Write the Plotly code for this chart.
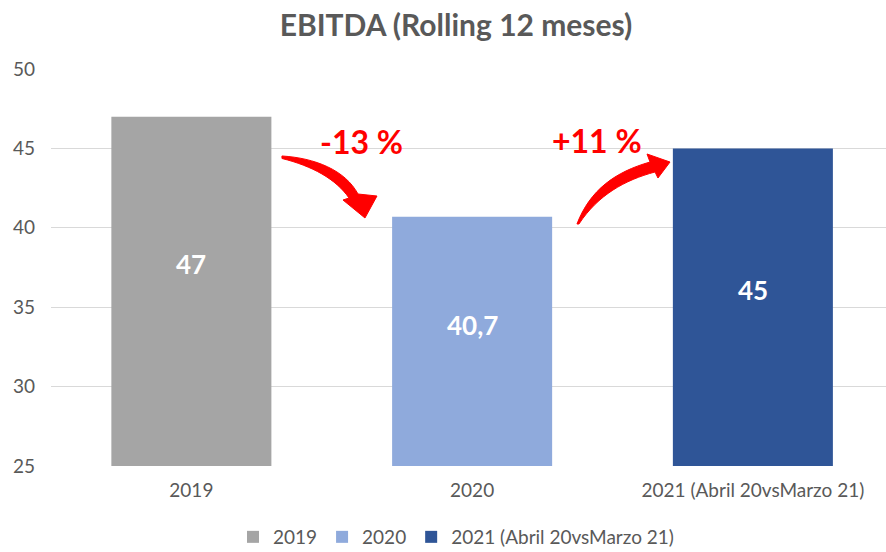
import plotly.graph_objects as go

categories = ["2019", "2020", "2021 (Abril 20vsMarzo 21)"]
values = [47, 40.7, 45]
colors = ["#A5A5A5", "#8FAADC", "#2F5597"]
label_y = [37.7, 33.9, 36.1]
changes = ["-13 %", "+11 %"]
y_ticks = [25, 30, 35, 40, 45, 50]

W, H = 886, 552
L, R, T, B = 51, 0, 69, 86
PW, PH = W - L - R, H - T - B
FONT = "Lato, Open Sans, sans-serif"
GRAY = "#595959"
RED = "#FF0000"


def px(x):
    return (x - L) / PW


def py(y):
    return (H - B - y) / PH


def path(points):
    s = ""
    for cmd, pts in points:
        s += cmd + " " + " ".join(f"{px(a):.4f},{py(b):.4f}" for a, b in pts) + " "
    return s + "Z"


fig = go.Figure()
for c, v, col in zip(categories, values, colors):
    fig.add_trace(go.Bar(x=[c], y=[v], name=c, marker=dict(color=col, line=dict(width=0)),
                         width=0.57, hoverinfo="skip"))

for i, (v, ly) in enumerate(zip(values, label_y)):
    fig.add_annotation(x=i, y=ly, xref="x", yref="y", showarrow=False,
                       xanchor="center", yanchor="middle",
                       text=f"<b>{str(v).replace('.', ',')}</b>",
                       font=dict(family=FONT, size=26, color="white"))

arrow1 = path([("M", [(282, 156)]),
               ("C", [(315, 158), (345, 170), (358, 194)]),
               ("L", [(377, 196)]),
               ("L", [(365, 218)]),
               ("L", [(343, 200)]),
               ("L", [(349, 198)]),
               ("C", [(336, 179), (312, 166), (282, 158.5)])])
arrow2 = path([("M", [(577, 224)]),
               ("C", [(590, 190), (615, 172), (650, 162)]),
               ("L", [(647, 154)]),
               ("L", [(670, 162)]),
               ("L", [(658, 178)]),
               ("L", [(655, 172)]),
               ("C", [(625, 180), (598, 195), (579, 224)])])
for p in (arrow1, arrow2):
    fig.add_shape(type="path", path=p, xref="paper", yref="paper",
                  fillcolor=RED, line=dict(color=RED, width=1))

for txt, (ax, ay) in zip(changes, [(361, 141), (597, 140)]):
    fig.add_annotation(x=px(ax), y=py(ay), xref="paper", yref="paper", showarrow=False,
                       xanchor="center", yanchor="middle",
                       text=f"<b>{txt}</b>", font=dict(family=FONT, size=32, color=RED))

fig.update_layout(
    width=W, height=H,
    margin=dict(l=L, r=R, t=T, b=B, autoexpand=False),
    paper_bgcolor="white", plot_bgcolor="white",
    barmode="overlay",
    title=dict(text="<b>EBITDA (Rolling 12 meses)</b>", x=456 / W, xanchor="center",
               xref="container", y=1 - 25 / H, yref="container", yanchor="middle",
               font=dict(family=FONT, size=30, color=GRAY)),
    font=dict(family=FONT, size=19, color=GRAY),
    showlegend=True,
    legend=dict(orientation="h", x=0.485, xanchor="center", y=py(537), yanchor="middle",
                font=dict(family=FONT, size=19, color=GRAY), itemwidth=30,
                traceorder="normal"),
    xaxis=dict(range=[-0.5, (W - 192) / 280.5], showgrid=False, showline=False,
               zeroline=False, ticks="", ticklabelstandoff=11, automargin=False,
               tickfont=dict(family=FONT, size=19, color=GRAY)),
    yaxis=dict(range=[25, 50], tickvals=y_ticks, showgrid=True, gridcolor="#D9D9D9",
               gridwidth=1, zeroline=False, showline=False, ticks="", automargin=False,
               ticklabelstandoff=15, tickfont=dict(family=FONT, size=19, color=GRAY)),
)

fig.write_html("out.html", config={"displayModeBar": False},
               post_script="document.body.style.margin='0';")
